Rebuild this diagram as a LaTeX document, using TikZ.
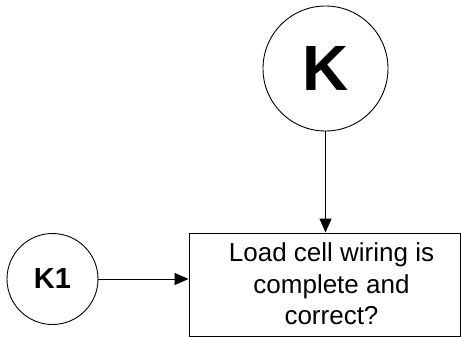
\documentclass[tikz,border=0pt]{standalone}
\usepackage{fontspec}
\setmainfont{Liberation Sans}
\usetikzlibrary{arrows.meta}
\begin{document}
\begin{tikzpicture}[x=1pt,y=-1pt, line width=0.9pt,
  circ/.style={draw, circle, inner sep=0pt},
  arr/.style={-{Triangle[length=14pt,width=12pt]}},
  boxshape/.style={draw, rectangle, inner sep=0pt},
  boxtext/.style={align=center, inner sep=0pt, font=\fontsize{26}{31.5}\selectfont}]
\useasboundingbox (0,0) rectangle (461,337);
\node[circ, minimum size=125pt, font=\fontsize{64}{64}\selectfont\bfseries] (k) at (325.5,68.5) {K};
\node[circ, minimum size=91pt, font=\fontsize{29}{29}\selectfont\bfseries] (k1) at (52.5,279) {K1};
\node[boxshape, minimum width=271pt, minimum height=103pt] (box) at (324.5,284.5) {};
\node[boxtext] (txt) at (331.5,284) {Load cell wiring is\\complete and\\correct?};
\draw[arr] (k.south) -- (k.south |- box.north);
\draw[arr] (k1.east) -- (k1.east -| box.west);
\end{tikzpicture}
\end{document}
